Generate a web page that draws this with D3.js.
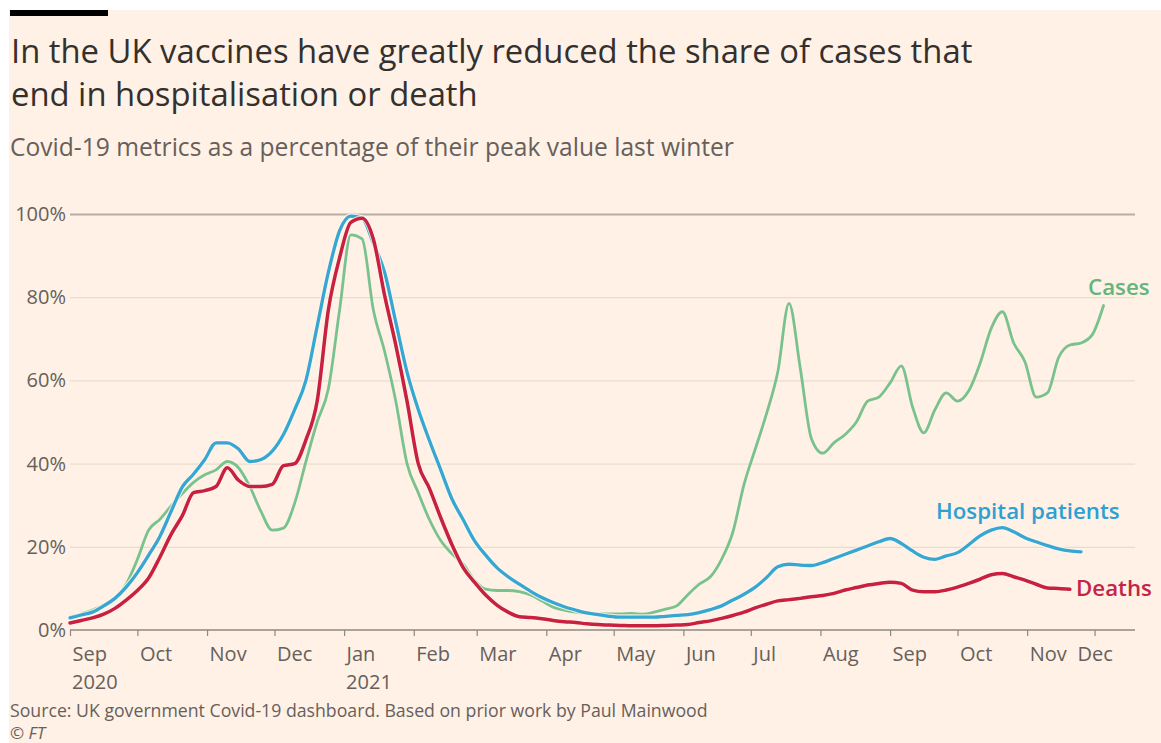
<!DOCTYPE html>
<html>
<head>
<meta charset="utf-8">
<script src="https://cdn.jsdelivr.net/npm/d3@7/dist/d3.min.js"></script>
<style>
  html, body { margin: 0; padding: 0; background: #ffffff; }
  svg { display: block; }
  text { font-family: "Open Sans", "Noto Sans", sans-serif; }
</style>
</head>
<body>
<svg id="chart" width="1161" height="743"></svg>
<script>
// ---- Data, % of last winter's peak ----
const dates = [
  "2020-09-01","2020-09-06","2020-09-11","2020-09-16","2020-09-21","2020-09-26",
  "2020-10-01","2020-10-06","2020-10-11","2020-10-16","2020-10-21","2020-10-26","2020-10-31",
  "2020-11-05","2020-11-10","2020-11-15","2020-11-20","2020-11-25","2020-11-30",
  "2020-12-05","2020-12-10","2020-12-15","2020-12-20","2020-12-25","2020-12-30",
  "2021-01-04","2021-01-09","2021-01-14","2021-01-19","2021-01-24","2021-01-29",
  "2021-02-03","2021-02-08","2021-02-13","2021-02-18","2021-02-23","2021-02-28",
  "2021-03-05","2021-03-10","2021-03-15","2021-03-20","2021-03-25","2021-03-30",
  "2021-04-04","2021-04-09","2021-04-14","2021-04-19","2021-04-24","2021-04-29",
  "2021-05-04","2021-05-09","2021-05-14","2021-05-19","2021-05-24","2021-05-29",
  "2021-06-03","2021-06-08","2021-06-13","2021-06-18","2021-06-23","2021-06-28",
  "2021-07-03","2021-07-08","2021-07-13","2021-07-18","2021-07-23","2021-07-28",
  "2021-08-02","2021-08-07","2021-08-12","2021-08-17","2021-08-22","2021-08-27",
  "2021-09-01","2021-09-06","2021-09-11","2021-09-16","2021-09-21","2021-09-26",
  "2021-10-01","2021-10-06","2021-10-11","2021-10-16","2021-10-21","2021-10-26","2021-10-31",
  "2021-11-05","2021-11-10","2021-11-15","2021-11-20","2021-11-25","2021-11-30",
  "2021-12-05"
];

const cases = [
  3.1, 3.9, 4.8, 6, 7.6, 11, 17, 24, 26.6, 29.8,
  32.8, 35.5, 37.3, 38.5, 40.5, 39, 34.5, 28.5, 24, 24.5,
  30.5, 40.5, 50, 58, 77, 95, 94, 77, 67, 55,
  40, 33, 26.5, 21.5, 18.3, 15.8, 12, 9.8, 9.5, 9.5,
  9.2, 8.4, 7, 5.5, 4.8, 4.3, 4, 3.9, 3.9, 3.9,
  4, 3.8, 4.3, 5, 5.8, 8.5, 11, 12.8, 17, 23.5,
  35, 43.5, 52, 62, 78.5, 63, 46, 42.5, 45, 47,
  50, 55, 56, 59.4, 63.5, 53.6, 47.4, 53, 57, 55,
  57.5, 64, 72.5, 76.5, 69, 64.5, 56, 57, 65.5, 68.5,
  69, 71, 78
];

const hospital = [
  2.9, 3.6, 4.3, 5.8, 7.6, 10.3, 13.8, 18, 22.5, 28.5,
  34.4, 37.5, 41, 45, 45, 43.5, 40.5, 41, 43, 47,
  53, 60, 73, 86, 96, 99.5, 99, 93, 86, 74,
  62, 53, 45.5, 38.5, 31.5, 26.5, 21.5, 18, 15, 12.8,
  11, 9.3, 7.8, 6.6, 5.6, 4.8, 4.1, 3.7, 3.3, 3.1,
  3.1, 3.1, 3.1, 3.3, 3.5, 3.7, 4.2, 4.9, 5.8, 7.2,
  8.6, 10.3, 12.6, 15.2, 15.8, 15.6, 15.5, 16.2, 17.2, 18.2,
  19.2, 20.2, 21.2, 22, 20.8, 19, 17.5, 17, 17.8, 18.6,
  20.5, 22.6, 24, 24.6, 23.6, 22.2, 21.2, 20.3, 19.5, 19,
  18.8, null, null
];

const deaths = [
  1.7, 2.3, 2.9, 3.8, 5.2, 7.2, 9.5, 12.5, 17.5, 23,
  27.5, 33, 33.5, 34.5, 39, 36, 34.5, 34.5, 35, 39.5,
  40, 45.7, 55, 77, 89.5, 98, 99, 94, 80.5, 68.5,
  55, 40, 34, 27, 20.5, 15, 11.5, 8.4, 6, 4.3,
  3.2, 3.0, 2.7, 2.3, 2.0, 1.8, 1.5, 1.3, 1.2, 1.1,
  1.0, 1.0, 1.0, 1.1, 1.2, 1.3, 1.8, 2.2, 2.8, 3.5,
  4.3, 5.3, 6.2, 7.0, 7.3, 7.6, 8.0, 8.3, 8.8, 9.6,
  10.2, 10.8, 11.2, 11.5, 11.2, 9.6, 9.2, 9.2, 9.6, 10.3,
  11.2, 12.2, 13.3, 13.6, 12.8, 12.0, 11, 10.1, 10, 9.8,
  null, null, null
];

const yTicks = [0, 20, 40, 60, 80, 100];
const xTickDates = ["2020-09-01","2020-10-01","2020-11-01","2020-12-01","2021-01-01","2021-02-01",
  "2021-03-01","2021-04-01","2021-05-01","2021-06-01","2021-07-01","2021-08-01","2021-09-01",
  "2021-10-01","2021-11-01","2021-12-01"];
const xTickLabels = ["Sep","Oct","Nov","Dec","Jan","Feb","Mar","Apr","May","Jun","Jul","Aug","Sep","Oct","Nov","Dec"];
const yearLabels = [{date: "2020-09-01", label: "2020"}, {date: "2021-01-01", label: "2021"}];

const seriesNames = ["Cases", "Hospital patients", "Deaths"];

// ---- Drawing ----
const W = 1161, H = 743;
const svg = d3.select("#chart");
const parse = d3.utcParse("%Y-%m-%d");

const C = {
  bg: "#fff1e5", text: "#33302e", muted: "#66605c",
  grid: "#e9dccf", axis: "#8f8781", top: "#b8aea6",
  cases: "#79c28e", hosp: "#36a6d2", deaths: "#c8203f",
  casesLbl: "#64b47b", hospLbl: "#2ea0d2", deathsLbl: "#c42448"
};

svg.append("rect").attr("x", 9).attr("y", 10).attr("width", W - 9).attr("height", H - 10).attr("fill", C.bg);
svg.append("rect").attr("x", 10).attr("y", 10).attr("width", 98).attr("height", 6).attr("fill", "#000");

svg.append("text").attr("x", 11).attr("y", 63).attr("font-size", 32.8).attr("fill", C.text)
  .text("In the UK vaccines have greatly reduced the share of cases that");
svg.append("text").attr("x", 11).attr("y", 106).attr("font-size", 32.8).attr("fill", C.text)
  .text("end in hospitalisation or death");
svg.append("text").attr("x", 10).attr("y", 156).attr("font-size", 24.6).attr("fill", C.muted)
  .text("Covid-19 metrics as a percentage of their peak value last winter");

const x = d3.scaleUtc().domain([parse("2020-09-01"), parse("2021-12-19")]).range([70, 1135]);
const y = d3.scaleLinear().domain([0, 100]).range([630, 214]);

// gridlines + y labels
const gy = svg.append("g").attr("transform", "translate(70,0)")
  .call(d3.axisLeft(y).tickValues(yTicks).tickSize(-(1135 - 70)).tickFormat(d => d + "%"));
gy.select(".domain").remove();
gy.selectAll(".tick line").attr("stroke", d => d === 100 ? C.top : C.grid).attr("stroke-width", d => d === 100 ? 2 : 1.2);
gy.selectAll(".tick").filter(d => d === 0).select("line").attr("stroke", "none");
gy.selectAll(".tick text").attr("x", -4).attr("font-size", 20).attr("fill", C.muted)
  .attr("font-family", "'Open Sans', sans-serif");

// x axis
const gx = svg.append("g").attr("transform", "translate(0,630)")
  .call(d3.axisBottom(x).tickValues(xTickDates.map(parse)).tickSize(6).tickFormat((d, i) => xTickLabels[i]));
gx.select(".domain").attr("stroke", C.axis).attr("stroke-width", 1.5).attr("d", "M70,0H1135");
gx.selectAll(".tick line").attr("stroke", C.axis).attr("stroke-width", 1.2);
gx.selectAll(".tick text").attr("font-size", 20).attr("fill", C.muted)
  .attr("font-family", "'Open Sans', sans-serif")
  .attr("text-anchor", (d, i) => i === xTickLabels.length - 1 ? "middle" : "start")
  .attr("x", (d, i) => i === xTickLabels.length - 1 ? 0 : 2)
  .attr("y", 31).attr("dy", 0);
svg.append("g").selectAll("text").data(yearLabels).join("text")
  .attr("x", d => x(parse(d.date)) + 2).attr("y", 689).attr("font-size", 20).attr("fill", C.muted)
  .text(d => d.label);

// lines
const rows = dates.map((d, i) => ({date: parse(d), cases: cases[i], hosp: hospital[i], deaths: deaths[i]}));
function lineFor(key) {
  return d3.line().defined(d => d[key] != null).x(d => x(d.date)).y(d => y(d[key])).curve(d3.curveMonotoneX);
}
const plot = svg.append("g").attr("fill", "none").attr("stroke-linejoin", "round").attr("stroke-linecap", "round");
plot.append("path").attr("d", lineFor("cases")(rows)).attr("stroke", C.cases).attr("stroke-width", 2.8);
plot.append("path").attr("d", lineFor("hosp")(rows)).attr("stroke", "#fff6ee").attr("stroke-width", 5.5).attr("opacity", 0.8);
plot.append("path").attr("d", lineFor("hosp")(rows)).attr("stroke", C.hosp).attr("stroke-width", 3.3);
plot.append("path").attr("d", lineFor("deaths")(rows)).attr("stroke", "#fff6ee").attr("stroke-width", 5.5).attr("opacity", 0.8);
plot.append("path").attr("d", lineFor("deaths")(rows)).attr("stroke", C.deaths).attr("stroke-width", 3.5);

// series labels
svg.append("text").attr("x", 1088).attr("y", 295).attr("font-size", 22.3).attr("font-weight", 600)
  .attr("fill", C.casesLbl).text(seriesNames[0]);
svg.append("text").attr("x", 936).attr("y", 519).attr("font-size", 22.3).attr("font-weight", 600)
  .attr("fill", C.hospLbl).text(seriesNames[1]);
svg.append("text").attr("x", 1076).attr("y", 596).attr("font-size", 22.3).attr("font-weight", 600)
  .attr("fill", C.deathsLbl).text(seriesNames[2]);

// footer
svg.append("text").attr("x", 10).attr("y", 717).attr("font-size", 17.7).attr("fill", C.muted)
  .text("Source: UK government Covid-19 dashboard. Based on prior work by Paul Mainwood");
svg.append("text").attr("x", 10).attr("y", 739).attr("font-size", 17).attr("fill", C.muted)
  .attr("font-style", "italic").text("© FT");
</script>
</body>
</html>
